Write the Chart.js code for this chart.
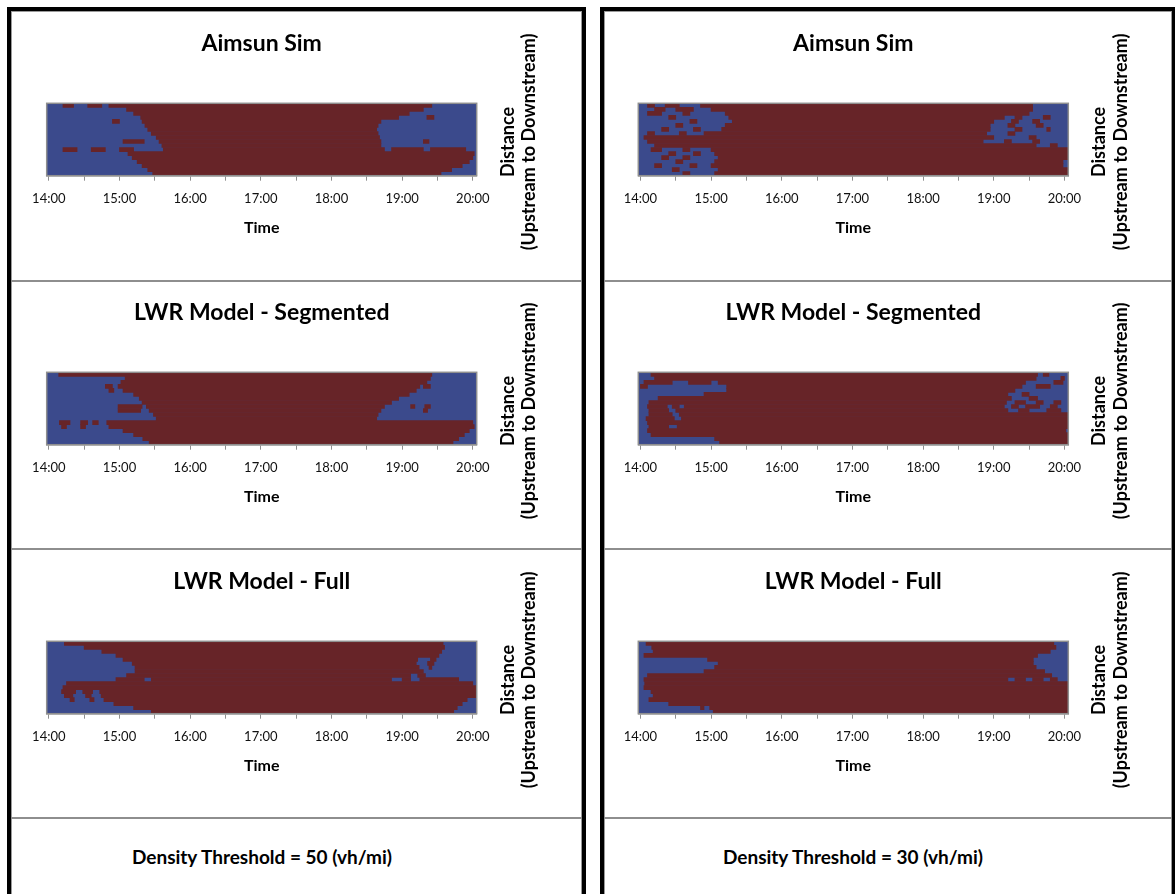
<!DOCTYPE html>
<html>
<head>
<meta charset="utf-8">
<script src="https://cdn.jsdelivr.net/npm/chart.js@4.4.1/dist/chart.umd.min.js"></script>
<style>
  html, body { margin: 0; padding: 0; background: #fff; }
  body { width: 1176px; height: 894px; position: relative; overflow: hidden; font-family: Lato, "Open Sans", sans-serif; }
  .box { position: absolute; top: 7px; height: 900px; border-top: 4px solid #000; box-shadow: inset 0 0 0 1px #9a9a9a; }
  #boxL { left: 7px; width: 571px; border-left: 4px solid #000; border-right: 4px solid #000; }
  #boxR { left: 600px; width: 568px; border-left: 4px solid #000; border-right: 3px solid #000; }
  .sep { position: absolute; left: 0; right: 0; height: 2px; background: #8e8e8e; }
  .cell { position: absolute; left: 0; height: 268px; }
  .foot { position: absolute; top: 845px; font-weight: bold; font-size: 19px; line-height: 23px; color: #000; white-space: nowrap; transform: translateX(-50%); }
</style>
</head>
<body>
<div class="box" id="boxL">
  <div class="sep" style="top:269px"></div>
  <div class="sep" style="top:537px"></div>
  <div class="sep" style="top:806px"></div>
  <div class="cell" style="top:0px;width:571px"><canvas id="l1" width="571" height="268"></canvas></div>
  <div class="cell" style="top:269px;width:571px"><canvas id="l2" width="571" height="268"></canvas></div>
  <div class="cell" style="top:538px;width:571px"><canvas id="l3" width="571" height="268"></canvas></div>
</div>
<div class="box" id="boxR">
  <div class="sep" style="top:269px"></div>
  <div class="sep" style="top:537px"></div>
  <div class="sep" style="top:806px"></div>
  <div class="cell" style="top:0px;width:568px"><canvas id="r1" width="568" height="268"></canvas></div>
  <div class="cell" style="top:269px;width:568px"><canvas id="r2" width="568" height="268"></canvas></div>
  <div class="cell" style="top:538px;width:568px"><canvas id="r3" width="568" height="268"></canvas></div>
</div>
<div class="foot" id="footL" style="left:262px">Density Threshold = 50 (vh/mi)</div>
<div class="foot" id="footR" style="left:853px">Density Threshold = 30 (vh/mi)</div>

<script>
// Time axis (hours of day); labels on the whole hours, tick marks every half hour
const tickHours = [14, 14.5, 15, 15.5, 16, 16.5, 17, 17.5, 18, 18.5, 19, 19.5, 20];
const hourLabels = ['14:00', '15:00', '16:00', '17:00', '18:00', '19:00', '20:00'];
const timeMin = 13.97;
const timeMax = 20.055;

// Congested intervals [start hour, end hour] for each road section,
// listed from upstream (top row) to downstream (bottom row).
// Threshold 50 vh/mi
const aimsunSim50 = [
  [[14.2, 14.35], [14.55, 14.75], [14.85, 19.42]],
  [[15.1, 19.3]],
  [[15.2, 19.1]],
  [[15.3, 18.95], [19.35, 19.45]],
  [[14.9, 15.0], [15.32, 18.7]],
  [[15.36, 18.66]],
  [[15.4, 18.64]],
  [[15.45, 18.66]],
  [[15.52, 18.68]],
  [[15.05, 15.35], [15.56, 18.7], [19.3, 19.38]],
  [[15.6, 18.7]],
  [[14.2, 14.4], [14.6, 14.8], [15.0, 15.2], [15.62, 18.75], [18.85, 19.3], [19.4, 19.9]],
  [[15.12, 20.02]],
  [[15.18, 20.0]],
  [[15.25, 19.95]],
  [[15.32, 19.85]],
  [[15.4, 19.7]],
  [[15.47, 19.55]]
];
const lwrSegmented50 = [
  [[14.14, 19.42]],
  [[15.08, 19.4]],
  [[15.02, 19.35]],
  [[14.8, 14.9], [14.98, 19.25], [19.3, 19.4]],
  [[14.85, 14.92], [15.05, 19.2]],
  [[15.2, 19.1]],
  [[15.28, 18.95]],
  [[15.32, 18.85]],
  [[14.98, 15.32], [15.38, 18.75], [19.12, 19.18], [19.32, 19.4]],
  [[14.98, 15.3], [15.42, 18.7], [19.3, 19.36]],
  [[15.48, 18.66]],
  [[15.52, 18.64]],
  [[14.15, 14.3], [14.45, 14.55], [14.62, 14.7], [14.82, 20.0]],
  [[14.18, 14.25], [14.45, 14.52], [14.85, 20.02]],
  [[15.05, 19.95]],
  [[15.2, 19.88]],
  [[15.33, 19.8]],
  [[15.42, 19.72]]
];
const lwrFull50 = [
  [[14.22, 19.58]],
  [[14.5, 19.6]],
  [[14.75, 19.56]],
  [[14.95, 19.52]],
  [[15.05, 19.22], [19.4, 19.48]],
  [[15.18, 19.2], [19.36, 19.45]],
  [[15.22, 19.24], [19.38, 19.42]],
  [[15.22, 19.3]],
  [[15.1, 19.12], [19.22, 19.33]],
  [[14.95, 15.35], [15.45, 18.85], [19.0, 19.12], [19.25, 19.8]],
  [[14.25, 20.0]],
  [[14.2, 20.06]],
  [[14.18, 14.38], [14.48, 14.62], [14.72, 20.06]],
  [[14.22, 14.34], [14.52, 14.6], [14.74, 20.06]],
  [[14.3, 14.36], [14.58, 14.64], [14.78, 19.92]],
  [[14.92, 19.85]],
  [[15.2, 19.78]],
  [[15.45, 19.73]]
];
// Threshold 30 vh/mi
const aimsunSim30 = [
  [[14.1, 14.2], [14.35, 14.55], [14.85, 19.55]],
  [[14.2, 14.35], [14.5, 14.75], [15.0, 19.55]],
  [[14.1, 14.3], [14.6, 14.7], [15.2, 19.5]],
  [[14.4, 14.5], [15.25, 19.15], [19.3, 19.4], [19.7, 19.8]],
  [[14.7, 14.8], [15.3, 19.0], [19.25, 19.35], [19.55, 19.65]],
  [[14.5, 14.6], [15.2, 18.95], [19.2, 19.3], [19.6, 19.7]],
  [[14.3, 14.4], [14.75, 14.85], [15.15, 18.95], [19.3, 19.4], [19.75, 19.8]],
  [[14.1, 14.2], [14.55, 14.65], [14.9, 18.9], [19.2, 19.3]],
  [[14.05, 19.0], [19.5, 19.6]],
  [[14.1, 18.85], [19.15, 19.25], [19.55, 19.65]],
  [[14.2, 19.6], [19.8, 19.9]],
  [[14.15, 14.3], [14.6, 14.7], [15.0, 20.06]],
  [[14.4, 14.5], [14.75, 14.85], [15.05, 20.06]],
  [[14.3, 14.4], [14.6, 14.7], [15.1, 20.06]],
  [[14.5, 14.6], [15.05, 19.98]],
  [[14.2, 14.3], [14.7, 14.8], [15.0, 19.98]],
  [[14.45, 14.55], [15.1, 20.06]],
  [[14.6, 14.7], [15.05, 20.06]]
];
const lwrSegmented30 = [
  [[14.15, 19.62], [19.7, 19.78]],
  [[14.2, 19.6], [19.95, 20.0]],
  [[14.05, 14.45], [14.68, 15.0], [15.1, 19.45], [19.85, 19.98]],
  [[14.0, 14.1], [15.22, 19.4], [19.6, 19.8]],
  [[15.22, 19.3]],
  [[14.9, 19.2], [19.4, 19.5]],
  [[14.25, 19.25], [19.5, 19.62]],
  [[14.12, 19.18], [19.3, 19.45], [19.6, 19.7], [19.85, 19.95]],
  [[14.1, 14.38], [14.45, 14.55], [14.62, 19.15], [19.25, 19.35], [19.45, 19.65], [19.8, 19.9]],
  [[14.12, 14.4], [14.5, 19.2], [19.35, 19.5], [19.75, 19.95]],
  [[14.12, 14.45], [14.55, 20.06]],
  [[14.08, 14.48], [14.58, 20.06]],
  [[14.1, 20.06]],
  [[14.12, 14.4], [14.52, 20.06]],
  [[14.1, 20.02]],
  [[14.15, 20.06]],
  [[15.05, 20.06]],
  [[15.12, 20.06]]
];
const lwrFull30 = [
  [[14.08, 19.85]],
  [[14.16, 19.88]],
  [[14.18, 19.8]],
  [[14.05, 19.62]],
  [[14.95, 19.56]],
  [[15.1, 19.56]],
  [[15.05, 19.6]],
  [[14.9, 19.72]],
  [[14.1, 19.82]],
  [[14.05, 19.2], [19.3, 19.45], [19.55, 19.7], [19.8, 19.9]],
  [[14.06, 20.06]],
  [[14.05, 20.06]],
  [[14.15, 20.06]],
  [[14.18, 20.06]],
  [[14.12, 20.06]],
  [[14.4, 20.06]],
  [[14.85, 14.9], [14.98, 20.06]],
  [[15.03, 20.06]]
];

const FREE_FLOW = '#3b4a8c';
const CONGESTED = '#672428';
const FONT = 'Lato, "Open Sans", sans-serif';

// Free-flow background and grey frame around the plot area
const plotFrame = {
  id: 'plotFrame',
  beforeDatasetsDraw(chart) {
    const {ctx, chartArea: a} = chart;
    ctx.save();
    ctx.fillStyle = FREE_FLOW;
    ctx.fillRect(a.left, a.top, a.width, a.height);
    ctx.restore();
  },
  afterDatasetsDraw(chart) {
    const {ctx, chartArea: a} = chart;
    ctx.save();
    ctx.strokeStyle = '#8f8f8f';
    ctx.lineWidth = 1.5;
    ctx.strokeRect(a.left, a.top, a.width, a.height);
    ctx.restore();
  }
};

// Distance title written bottom-to-top on the right of the plot
const sideTitle = {
  id: 'sideTitle',
  afterDraw(chart, args, opts) {
    const {ctx, chartArea: a} = chart;
    ctx.save();
    ctx.font = 'bold 18px ' + FONT;
    ctx.fillStyle = '#000';
    ctx.textAlign = 'center';
    ctx.textBaseline = 'middle';
    const cy = (a.top + a.bottom) / 2 + 2.5;
    opts.lines.forEach((line, i) => {
      ctx.save();
      ctx.translate(a.right + 31 + i * 21.5, cy);
      ctx.rotate(-Math.PI / 2);
      ctx.fillText(line, 0, 0);
      ctx.restore();
    });
    ctx.restore();
  }
};

function buildDatasets(rows) {
  const depth = Math.max(...rows.map(r => r.length));
  const sets = [];
  for (let j = 0; j < depth; j++) {
    sets.push({
      data: rows.map(r => (r[j] ? r[j] : null)),
      backgroundColor: CONGESTED,
      borderWidth: 0,
      barPercentage: 1,
      categoryPercentage: 1,
      grouped: false
    });
  }
  return sets;
}

function drawPanel(id, title, rows, padLeft, padRight) {
  new Chart(document.getElementById(id), {
    type: 'bar',
    data: { labels: rows.map((_, i) => i), datasets: buildDatasets(rows) },
    plugins: [plotFrame, sideTitle],
    options: {
      indexAxis: 'y',
      responsive: false,
      animation: false,
      layout: { padding: { left: padLeft, right: padRight, top: 0, bottom: 37.5 } },
      plugins: {
        legend: { display: false },
        tooltip: { enabled: false },
        title: {
          display: true,
          text: title,
          color: '#000',
          font: { family: FONT, size: 23, weight: 'bold' },
          padding: { top: 19.2, bottom: 45.5 }
        },
        sideTitle: { lines: ['Distance', '(Upstream to Downstream)'] }
      },
      scales: {
        y: { display: false },
        x: {
          type: 'linear',
          min: timeMin,
          max: timeMax,
          afterBuildTicks: s => { s.ticks = tickHours.map(v => ({ value: v })); },
          ticks: {
            autoSkip: false,
            maxRotation: 0,
            padding: 10.5,
            color: '#111',
            font: { family: FONT, size: 13 },
            callback: v => (Number.isInteger(v) ? hourLabels[v - 14] : '')
          },
          grid: { drawOnChartArea: false, tickLength: 5, color: '#8f8f8f', lineWidth: 1 },
          border: { display: true, color: '#8f8f8f', width: 1.5 },
          title: {
            display: true,
            text: 'Time',
            color: '#000',
            font: { family: FONT, size: 16, weight: 'bold' },
            padding: { top: 1, bottom: 4 }
          }
        }
      }
    }
  });
}

drawPanel('l1', 'Aimsun Sim', aimsunSim50, 35.7, 105.3);
drawPanel('l2', 'LWR Model - Segmented', lwrSegmented50, 35.7, 105.3);
drawPanel('l3', 'LWR Model - Full', lwrFull50, 35.7, 105.3);
drawPanel('r1', 'Aimsun Sim', aimsunSim30, 34.3, 103.7);
drawPanel('r2', 'LWR Model - Segmented', lwrSegmented30, 34.3, 103.7);
drawPanel('r3', 'LWR Model - Full', lwrFull30, 34.3, 103.7);
</script>
</body>
</html>
